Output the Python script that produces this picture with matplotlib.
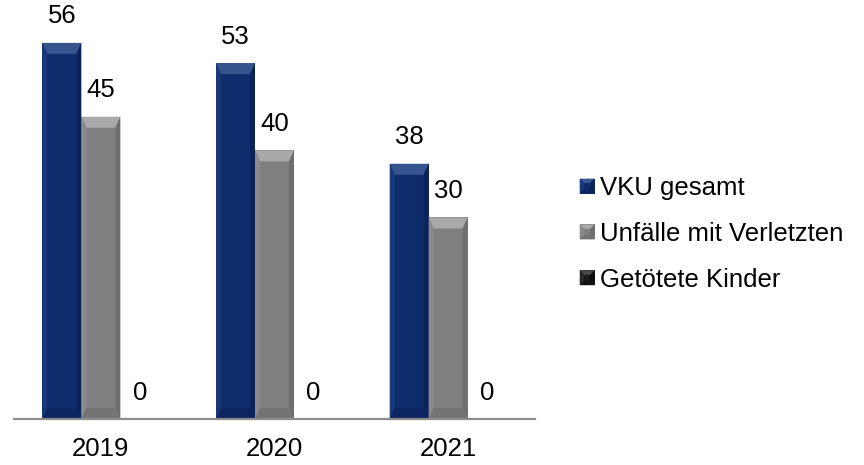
import numpy as np
import matplotlib.pyplot as plt
from matplotlib.patches import Polygon, Patch, Rectangle
from matplotlib.legend_handler import HandlerPatch

plt.rcParams['font.family'] = ['Liberation Sans', 'DejaVu Sans']

years = ['2019', '2020', '2021']
series = ['VKU gesamt', 'Unfälle mit Verletzten', 'Getötete Kinder']
vku = [56, 53, 38]
unfaelle = [45, 40, 30]
getoetet = [0, 0, 0]
values = [vku, unfaelle, getoetet]

# body, top bevel, left edge, right edge, bottom edge
palette = [
    ('#0f2c6c', '#36558f', '#1a387a', '#0b235a', '#0c2560'),
    ('#7f7f7f', '#a9a9a9', '#8a8a8a', '#6e6e6e', '#747474'),
    ('#1a1a1a', '#4a4a4a', '#2a2a2a', '#0d0d0d', '#111111'),
]

W, H, DPI = 864, 465, 100
FS = 18.5
fig = plt.figure(figsize=(W / DPI, H / DPI), dpi=DPI)
ax_l, ax_r, ax_b, ax_t = 14, 535, 419, 16
ax = fig.add_axes([ax_l / W, (H - ax_b) / H, (ax_r - ax_l) / W, (ax_b - ax_t) / H])

ymax = 60
ax.set_xlim(-0.5, 2.5)
ax.set_ylim(0, ymax)
px_x = 3.0 / (ax_r - ax_l)       # data units per pixel, x
px_y = ymax / (ax_b - ax_t)      # data units per pixel, y

x = np.arange(len(years))
width = 0.2245


def bevel(ax, x0, w, h, cols, dx=5, dy=11):
    body, top, left, right, bottom = cols
    if h <= 0:
        return
    ix, iy = dx * px_x, min(dy * px_y, h / 2)
    x1 = x0 + w
    ax.add_patch(Rectangle((x0, 0), w, h, facecolor=body, edgecolor='none', zorder=3))
    ax.add_patch(Polygon([(x0, h), (x1, h), (x1 - ix, h - iy), (x0 + ix, h - iy)],
                         facecolor=top, edgecolor='none', zorder=4))
    ax.add_patch(Polygon([(x0, 0), (x0, h), (x0 + ix, h - iy), (x0 + ix, iy)],
                         facecolor=left, edgecolor='none', zorder=4))
    ax.add_patch(Polygon([(x1, 0), (x1, h), (x1 - ix, h - iy), (x1 - ix, iy)],
                         facecolor=right, edgecolor='none', zorder=4))
    ax.add_patch(Polygon([(x0, 0), (x1, 0), (x1 - ix, iy), (x0 + ix, iy)],
                         facecolor=bottom, edgecolor='none', zorder=4))


for i, (vals, cols) in enumerate(zip(values, palette)):
    pos = x + (i - 1) * width
    bars = ax.bar(pos, vals, width, color=cols[0], label=series[i], zorder=2)
    for b, v in zip(bars, vals):
        bevel(ax, b.get_x(), b.get_width(), v, cols)
        ax.annotate(str(v), (b.get_x() + b.get_width() / 2, v), xytext=(0, 14),
                    textcoords='offset points', ha='center', va='baseline',
                    fontsize=FS, color='black')

for s in ['top', 'right', 'left']:
    ax.spines[s].set_visible(False)
ax.spines['bottom'].set_color('#8c8c8c')
ax.spines['bottom'].set_linewidth(1.6)
ax.spines['bottom'].set_zorder(5)
ax.set_yticks([])
ax.set_xticks(x)
ax.set_xticklabels(years, fontsize=FS)
ax.tick_params(axis='x', length=0, pad=13)


class BevelHandler(HandlerPatch):
    def __init__(self, cols):
        super().__init__()
        self.cols = cols

    def create_artists(self, legend, orig_handle, xdescent, ydescent, width, height, fontsize, trans):
        body, top, left, right, bottom = self.cols
        s = min(width, height)
        x0, y0 = -xdescent, -ydescent + (height - s) / 2
        d = s * 0.3
        arts = [Rectangle((x0, y0), s, s, facecolor=body, edgecolor='none')]
        pts = [
            ([(x0, y0 + s), (x0 + s, y0 + s), (x0 + s - d, y0 + s - d), (x0 + d, y0 + s - d)], top),
            ([(x0, y0), (x0, y0 + s), (x0 + d, y0 + s - d), (x0 + d, y0 + d)], left),
            ([(x0 + s, y0), (x0 + s, y0 + s), (x0 + s - d, y0 + s - d), (x0 + s - d, y0 + d)], right),
            ([(x0, y0), (x0 + s, y0), (x0 + s - d, y0 + d), (x0 + d, y0 + d)], bottom),
        ]
        for p, c in pts:
            arts.append(Polygon(p, facecolor=c, edgecolor='none'))
        for a in arts:
            a.set_transform(trans)
        return arts


handles = [Patch(facecolor=c[0]) for c in palette]
hmap = {h: BevelHandler(c) for h, c in zip(handles, palette)}
fig.legend(handles, series, handler_map=hmap, loc='center left',
           bbox_to_anchor=(572 / W, (H - 234) / H), frameon=False, fontsize=FS,
           handlelength=0.58, handleheight=0.58, handletextpad=0.2,
           labelspacing=0.85, borderpad=0.3, borderaxespad=0)

fig.savefig('out.png', dpi=DPI)
